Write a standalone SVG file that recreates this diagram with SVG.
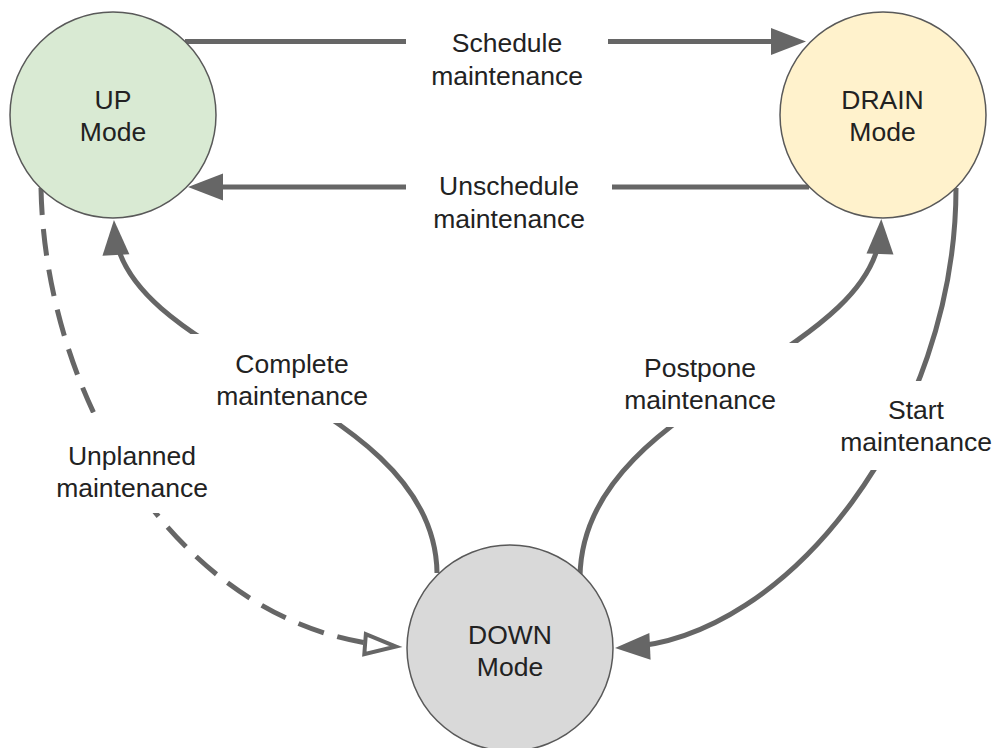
<svg xmlns="http://www.w3.org/2000/svg" width="998" height="748" viewBox="0 0 998 748">
<style>
.node{stroke:#595959;stroke-width:1.5}
.lbl{font-family:"Liberation Sans",Arial,sans-serif;font-size:26.5px;fill:#222;text-anchor:middle}
.edge{fill:none;stroke:#666;stroke-width:5}
.dash{stroke-dasharray:27 14}
</style>
<defs>
<marker id="ah" markerUnits="userSpaceOnUse" markerWidth="40" markerHeight="30" viewBox="-30 -15 40 30" refX="0" refY="0" orient="auto" overflow="visible">
<path d="M8,0 L-27,-13.5 L-27,13.5 Z" fill="#666"/>
</marker>
<marker id="ao" markerUnits="userSpaceOnUse" markerWidth="40" markerHeight="30" viewBox="-34 -15 40 30" refX="0" refY="0" orient="auto" overflow="visible">
<path d="M2,0 L-29,-10 L-29,10 Z" fill="#fff" stroke="#666" stroke-width="4" stroke-linejoin="miter"/>
</marker>
<mask id="gaps" maskUnits="userSpaceOnUse" x="0" y="0" width="998" height="748">
<rect width="998" height="748" fill="#fff"/>
<rect x="406" y="20" width="202" height="80" fill="#000"/>
<rect x="406" y="165" width="206" height="75" fill="#000"/>
<rect x="190" y="334" width="195" height="89" fill="#000"/>
<rect x="50" y="413" width="165" height="100" fill="#000"/>
<rect x="622" y="343" width="182" height="84" fill="#000"/>
<rect x="828" y="381" width="170" height="89" fill="#000"/>
</mask>
</defs>
<g id="connectors" mask="url(#gaps)">
<path id="e-schedule" class="edge" d="M185,41.5 L798,41.5" marker-end="url(#ah)"/>
<path id="e-unschedule" class="edge" d="M809,187 L196,187" marker-end="url(#ah)"/>
<path id="e-complete" class="edge" d="M437,573 C435,398 122,362 114.4,228" marker-end="url(#ah)"/>
<path id="e-postpone" class="edge" d="M580,577 C582,400 876,360 881,227" marker-end="url(#ah)"/>
<path id="e-start" class="edge" d="M956,188 C956,420 790,640 623,647.6" marker-end="url(#ah)"/>
<path id="e-unplanned" class="edge dash" d="M41,188 C45,400 180,630 394,646.4" marker-end="url(#ao)"/>
</g>
<g id="labels">
<text class="lbl" x="507" y="51.5">Schedule</text>
<text class="lbl" x="507" y="85">maintenance</text>
<text class="lbl" x="509" y="195">Unschedule</text>
<text class="lbl" x="509" y="227.5">maintenance</text>
<text class="lbl" x="292" y="372.5">Complete</text>
<text class="lbl" x="292" y="405">maintenance</text>
<text class="lbl" x="132" y="465">Unplanned</text>
<text class="lbl" x="132" y="497">maintenance</text>
<text class="lbl" x="700" y="376.5">Postpone</text>
<text class="lbl" x="700" y="408.5">maintenance</text>
<text class="lbl" x="916" y="418.5">Start</text>
<text class="lbl" x="916" y="450.5">maintenance</text>
</g>
<g id="node-up">
<circle class="node" cx="113" cy="115" r="103" fill="#d9ead3"/>
<text class="lbl" x="113" y="108.5">UP</text>
<text class="lbl" x="113" y="140.5">Mode</text>
</g>
<g id="node-drain">
<circle class="node" cx="883" cy="115" r="103" fill="#fff2cc"/>
<text class="lbl" x="882.5" y="108.5">DRAIN</text>
<text class="lbl" x="882.5" y="140.5">Mode</text>
</g>
<g id="node-down">
<circle class="node" cx="510" cy="648" r="103" fill="#d9d9d9"/>
<text class="lbl" x="510" y="643.5">DOWN</text>
<text class="lbl" x="510" y="676">Mode</text>
</g>
</svg>
